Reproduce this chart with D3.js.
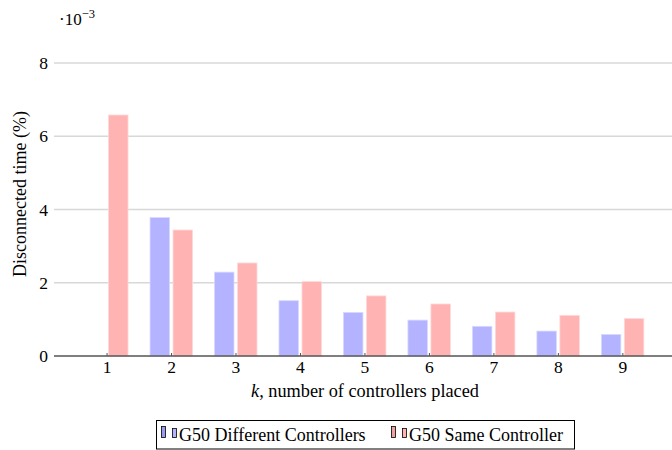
<!DOCTYPE html>
<html>
<head>
<meta charset="utf-8">
<script src="https://cdn.jsdelivr.net/npm/d3@7"></script>
<style>
  body { margin: 0; background: #fff; }
</style>
</head>
<body>
<div id="chart"></div>
<script>
/* grouped bars: disconnected time vs number of controllers */

const ks = [1, 2, 3, 4, 5, 6, 7, 8, 9];
const different = [null, 3.78, 2.29, 1.51, 1.19, 0.98, 0.81, 0.68, 0.59]; // x 10^-3
const same = [6.58, 3.44, 2.54, 2.03, 1.64, 1.42, 1.20, 1.11, 1.02];
const yTicks = [0, 2, 4, 6, 8];
const seriesNames = ["G50 Different Controllers", "G50 Same Controller"];

const FONT = "Liberation Serif";

let width = 672,
    height = 450,
    margin = ({ top: 63, right: 0, bottom: 94, left: 54 });

const svg = d3.select("#chart")
  .append("svg")
  .attr("width", width)
  .attr("height", height)
  .attr("font-family", FONT);

let x = d3.scaleLinear()
  .domain([0.185, 9.77])
  .range([margin.left, width - margin.right]);

let y = d3.scaleLinear()
  .domain([0, 8])
  .range([height - margin.bottom, margin.top]);

// grid lines
svg.append("g")
  .selectAll("line")
  .data(yTicks.filter(d => d > 0))
  .join("line")
  .attr("x1", margin.left)
  .attr("x2", width)
  .attr("y1", d => y(d))
  .attr("y2", d => y(d))
  .attr("stroke", "#d8d8d8")
  .attr("stroke-width", 1.3);

// y tick labels
svg.append("g")
  .selectAll("text")
  .data(yTicks)
  .join("text")
  .attr("x", margin.left - 6)
  .attr("y", d => y(d))
  .attr("dy", "0.35em")
  .attr("text-anchor", "end")
  .attr("font-size", 17.5)
  .text(d => d);

let barW = 19.5;
let colors = ["#b3b3ff", "#ffb3b3"];
let strokes = ["#d9d9ff", "#ffd9d9"];

[different, same].forEach((vals, i) => {
  let off = i === 0 ? -21 : 2;
  svg.append("g")
    .selectAll("rect")
    .data(ks.map((k, j) => ({ k, v: vals[j] })).filter(d => d.v != null))
    .join("rect")
    .attr("x", d => x(d.k) + off)
    .attr("y", d => y(d.v))
    .attr("width", barW)
    .attr("height", d => y(0) - y(d.v))
    .attr("fill", colors[i])
    .attr("stroke", strokes[i])
    .attr("stroke-width", 0.8);
});

// x axis
let xAxis = svg.append("g")
  .attr("transform", `translate(0,${y(0)})`)
  .call(d3.axisBottom(x).tickValues(ks).tickSize(3).tickFormat(d3.format("d")))
  .attr("font-family", FONT)
  .attr("font-size", 17.5);
xAxis.select(".domain")
  .attr("d", `M${margin.left},0H${width}`)
  .attr("stroke", "#555")
  .attr("stroke-width", 1.5);
xAxis.selectAll(".tick line").attr("stroke", "#555").attr("transform", "translate(0,-3)");
xAxis.selectAll(".tick text")
  .attr("fill", "#000")
  .attr("y", 17)
  .attr("dy", 0);

// axis labels
let xl = svg.append("text")
  .attr("x", 365)
  .attr("y", 397)
  .attr("text-anchor", "middle")
  .attr("font-size", 18.3);
xl.append("tspan").attr("font-style", "italic").text("k");
xl.append("tspan").text(", number of controllers placed");

svg.append("text")
  .attr("transform", "translate(26,194) rotate(-90)")
  .attr("text-anchor", "middle")
  .attr("font-size", 18)
  .text("Disconnected time (%)");

// scale factor
let sf = svg.append("text")
  .attr("x", 59)
  .attr("y", 24.5)
  .attr("font-size", 17);
sf.append("tspan").text("·10");
sf.append("tspan").attr("dy", -7).attr("font-size", 12.5).text("−3");

// legend
let legend = svg.append("g");
legend.append("rect")
  .attr("x", 156.5).attr("y", 420.5)
  .attr("width", 418).attr("height", 28.5)
  .attr("fill", "#fff")
  .attr("stroke", "#000")
  .attr("stroke-width", 1);

let legX = [161, 391];
seriesNames.forEach((name, i) => {
  let g = legend.append("g").attr("transform", `translate(${legX[i]},0)`);
  g.append("rect").attr("x", 0.5).attr("y", 426.5).attr("width", 4).attr("height", 11)
    .attr("fill", i === 0 ? "#9a9af0" : "#f0a0a0").attr("stroke", "#000").attr("stroke-width", 0.8);
  g.append("rect").attr("x", 11.5).attr("y", 428.5).attr("width", 4).attr("height", 9)
    .attr("fill", colors[i]).attr("stroke", "#000").attr("stroke-width", 0.8);
  g.append("text")
    .attr("x", 18)
    .attr("y", 441)
    .attr("font-size", 18)
    .text(name);
});
</script>
</body>
</html>
